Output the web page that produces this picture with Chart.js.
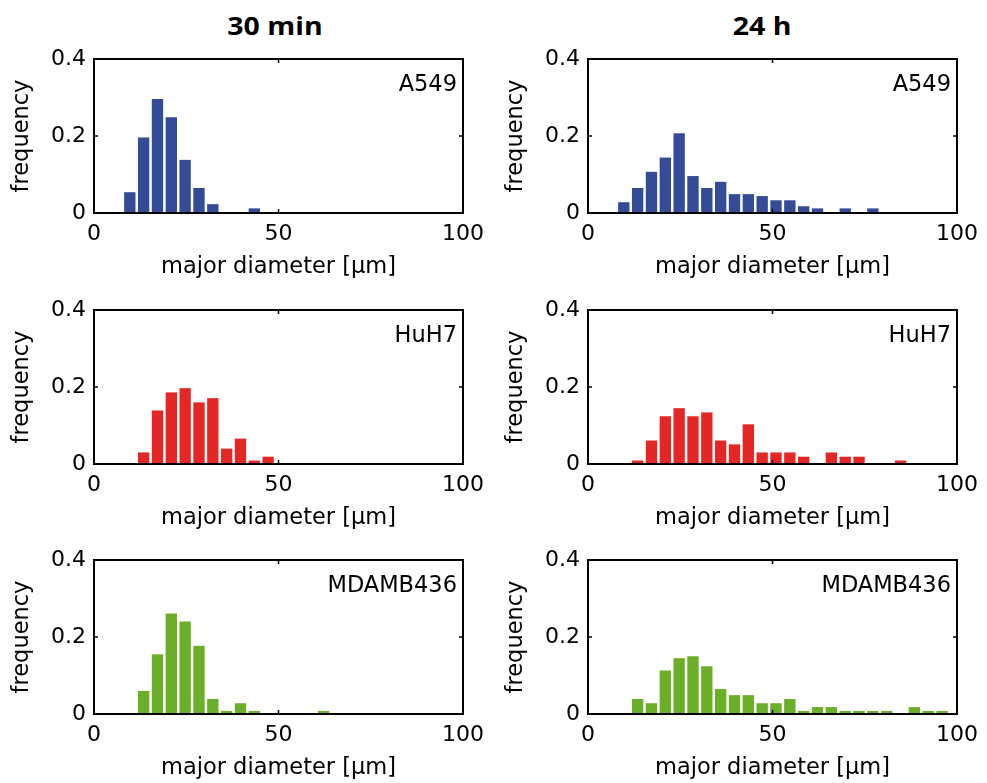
<!DOCTYPE html>
<html>
<head>
<meta charset="utf-8">
<script src="https://cdn.jsdelivr.net/npm/chart.js@4.4.0/dist/chart.umd.min.js"></script>
<style>
  html, body { margin: 0; padding: 0; background: #fff; width: 987px; height: 783px; overflow: hidden; }
  canvas { position: absolute; }
  .colTitle {
    position: absolute; top: 13px; white-space: nowrap;
    font: bold 25px "Open Sans"; line-height: 25px; color: #000;
    transform: translateX(-50%) scaleX(1.14);
  }
</style>
</head>
<body>
<div class="colTitle" style="left:275px">30 min</div>
<div class="colTitle" style="left:762px">24 h</div>

<canvas id="c1" width="492" height="251" style="left:0;top:34px"></canvas>
<canvas id="c2" width="492" height="251" style="left:494px;top:34px"></canvas>
<canvas id="c3" width="492" height="251" style="left:0;top:285px"></canvas>
<canvas id="c4" width="492" height="251" style="left:494px;top:285px"></canvas>
<canvas id="c5" width="492" height="251" style="left:0;top:535px"></canvas>
<canvas id="c6" width="492" height="251" style="left:494px;top:535px"></canvas>

<script>
/* ============================
   Datos (histogramas)
============================ */
// centro de cada clase, µm
const binCenters = [9.7, 13.45, 17.2, 20.95, 24.7, 28.45, 32.2, 35.95, 39.7, 43.45, 47.2, 50.95,
                    54.7, 58.45, 62.2, 65.95, 69.7, 73.45, 77.2, 80.95, 84.7, 88.45, 92.2, 95.95];

const a549_30min = [0.054, 0.196, 0.296, 0.249, 0.138, 0.065, 0.023, 0, 0, 0.012, 0, 0,
                    0, 0, 0, 0, 0, 0, 0, 0, 0, 0, 0, 0];
const a549_24h   = [0.028, 0.065, 0.107, 0.144, 0.207, 0.096, 0.065, 0.081, 0.049, 0.049, 0.044, 0.033,
                    0.033, 0.0175, 0.012, 0, 0.012, 0, 0.012, 0, 0, 0, 0, 0];
const huh7_30min = [0, 0.030, 0.139, 0.186, 0.197, 0.160, 0.171, 0.040, 0.066, 0.009, 0.019, 0,
                    0, 0, 0, 0, 0, 0, 0, 0, 0, 0, 0, 0];
const huh7_24h   = [0, 0.009, 0.061, 0.124, 0.145, 0.124, 0.134, 0.061, 0.051, 0.103, 0.030, 0.030,
                    0.030, 0.019, 0, 0.030, 0.019, 0.019, 0, 0, 0.009, 0, 0, 0];
const mda_30min  = [0, 0.060, 0.155, 0.261, 0.240, 0.177, 0.039, 0.008, 0.028, 0.008, 0, 0,
                    0, 0, 0.008, 0, 0, 0, 0, 0, 0, 0, 0, 0];
const mda_24h    = [0, 0.039, 0.028, 0.113, 0.145, 0.150, 0.124, 0.065, 0.049, 0.049, 0.028, 0.028,
                    0.039, 0.008, 0.018, 0.018, 0.008, 0.008, 0.008, 0.008, 0, 0.018, 0.008, 0.008];

const xTicks = [0, 50, 100];
const yTicks = [0, 0.2, 0.4];

const BLUE = "#344b98", RED = "#e42624", GREEN = "#6aaf27";

/* ============================
   Plugin: caja, ticks internos y etiqueta
============================ */
const framePlugin = {
    id: "frame",
    afterDraw(chart, args, opts) {
        const { ctx, chartArea: a, scales: { x, y } } = chart;
        ctx.save();
        ctx.strokeStyle = "#000";
        ctx.lineWidth = 1.5;
        ctx.beginPath();
        x.ticks.forEach((t) => {
            const px = x.getPixelForValue(t.value);
            ctx.moveTo(px, a.bottom); ctx.lineTo(px, a.bottom - 4);
            ctx.moveTo(px, a.top); ctx.lineTo(px, a.top + 4);
        });
        y.ticks.forEach((t) => {
            const py = y.getPixelForValue(t.value);
            ctx.moveTo(a.left, py); ctx.lineTo(a.left + 4, py);
            ctx.moveTo(a.right, py); ctx.lineTo(a.right - 4, py);
        });
        ctx.stroke();
        ctx.lineWidth = 2;
        ctx.strokeRect(a.left, a.top, a.right - a.left, a.bottom - a.top);

        ctx.fillStyle = "#000";
        ctx.font = '22.5px "DejaVu Sans"';
        ctx.textAlign = "right";
        ctx.textBaseline = "alphabetic";
        ctx.fillText(opts.label, a.right - 6, a.top + 32);
        ctx.restore();
    }
};

Chart.defaults.font.family = '"DejaVu Sans"';
Chart.defaults.color = "#000";

function histChart(id, values, color, label, padRight) {
    const ctx = document.getElementById(id).getContext("2d");
    return new Chart(ctx, {
        type: "bar",
        data: {
            datasets: [{
                data: binCenters.map((c, i) => ({ x: c, y: values[i] })),
                backgroundColor: color,
                borderWidth: 0,
                categoryPercentage: 1,
                barPercentage: 0.82
            }]
        },
        options: {
            responsive: false,
            animation: false,
            events: [],
            layout: { padding: { top: 25, right: padRight, left: 0, bottom: 0 } },
            plugins: { legend: { display: false }, tooltip: { enabled: false }, frame: { label } },
            scales: {
                x: {
                    type: "linear",
                    offset: false,
                    min: 0, max: 100,
                    grid: { display: false, drawTicks: false },
                    border: { display: false },
                    afterBuildTicks: (s) => { s.ticks = xTicks.map((v) => ({ value: v })); },
                    afterFit: (s) => { s.height = 72; },
                    ticks: { font: { size: 22 }, padding: 8, maxRotation: 0, autoSkip: false },
                    title: { display: true, text: "major diameter [µm]", font: { size: 22.5 }, padding: { top: 0, bottom: 4 } }
                },
                y: {
                    min: 0, max: 0.4,
                    grid: { display: false, drawTicks: false },
                    border: { display: false },
                    afterBuildTicks: (s) => { s.ticks = yTicks.map((v) => ({ value: v })); },
                    afterFit: (s) => { s.width = 94; },
                    ticks: { font: { size: 22 }, padding: 8 },
                    title: { display: true, text: "frequency", font: { size: 22.5 }, padding: { top: 9, bottom: 0 } }
                }
            }
        },
        plugins: [framePlugin]
    });
}

histChart("c1", a549_30min, BLUE, "A549", 27);
histChart("c2", a549_24h, BLUE, "A549", 26);
histChart("c3", huh7_30min, RED, "HuH7", 27);
histChart("c4", huh7_24h, RED, "HuH7", 26);
histChart("c5", mda_30min, GREEN, "MDAMB436", 27);
histChart("c6", mda_24h, GREEN, "MDAMB436", 26);
</script>
</body>
</html>
